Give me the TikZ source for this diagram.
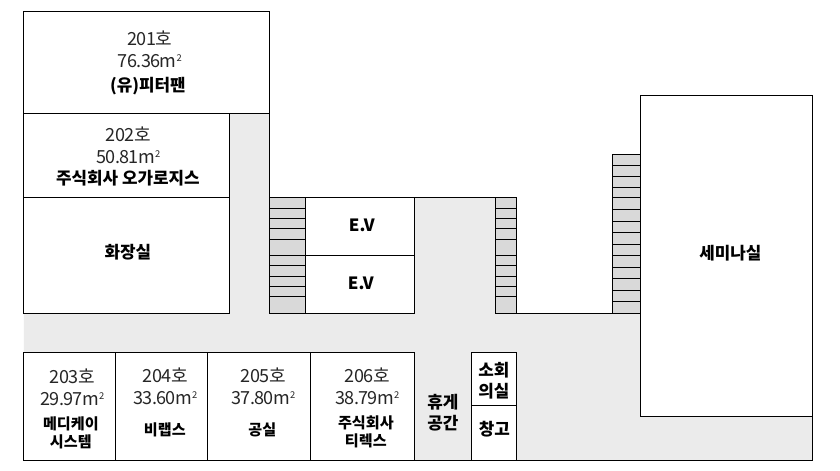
\documentclass[tikz,border=0pt]{standalone}
\usepackage{fontspec}
\setmainfont{Noto Sans CJK KR}
\newfontfamily\numfont[LetterSpace=-3.5]{Noto Sans CJK KR}
\newcommand{\sqm}{m\raisebox{0.62ex}{\fontsize{8}{8}\selectfont 2}}
\tikzset{
  wall/.style={draw=black, line width=0.8pt},
  room/.style={wall, rectangle, fill=white, inner sep=0pt},
  roomtext/.style={align=center, inner sep=0pt, text=black!85, font=\fontsize{15.4}{18.7}\selectfont\numfont},
  nametext/.style={align=center, inner sep=0pt, text=black, font=\fontsize{14.4}{17.8}\selectfont\bfseries},
  smallname/.style={nametext, font=\fontsize{12.9}{15.5}\selectfont\bfseries}
}
\begin{document}
\begin{tikzpicture}[x=0.03cm, y=-0.03cm]
\useasboundingbox (0.15,0) rectangle (840.15,470);

% Corridor
\fill[black!8] (24,313) -- (230,313) -- (230,113) -- (270,113) -- (270,197) -- (496,197) -- (496,313) -- (641,313) -- (641,416) -- (813,416) -- (813,460) -- (415,460) -- (415,352) -- (24,352) -- cycle;
\draw[wall] (415,197) -- (496,197);
\draw[wall] (517,313) -- (613,313);
\draw[wall] (270,113) -- (270,197);
\draw[wall] (813,416) -- (813,460) -- (415,460);

% Stairs
\draw[wall, fill=black!15] (270,197) rectangle (306,313);
\draw[wall, fill=black!15] (496,197) rectangle (517,313);
\draw[wall, fill=black!15] (613,154) rectangle (641,313);
\foreach \yy in {208,218,228,239,255,265,276,286,296} {
  \draw[wall] (270,\yy) -- (306,\yy);
  \draw[wall] (496,\yy) -- (517,\yy);
}
\foreach \yy in {165,176,187,197,209,221,232,244,255,267,278,290,301} {
  \draw[wall] (613,\yy) -- (641,\yy);
}

% Upper rooms
\draw[room] (24,11) rectangle (270,113);
\draw[room] (24,113) rectangle (230,197);
\draw[room] (24,197) rectangle (230,313);
\draw[room] (306,197) rectangle (415,255);
\draw[room] (306,255) rectangle (415,313);

% Lower rooms
\draw[room] (24,352) rectangle (115.5,460);
\draw[room] (115.5,352) rectangle (207.5,460);
\draw[room] (207.5,352) rectangle (310.5,460);
\draw[room] (310.5,352) rectangle (415,460);
\draw[room] (471.5,352) rectangle (516.5,405);
\draw[room] (471.5,405) rectangle (516.5,460);

% Seminar room
\draw[room] (641,95) rectangle (813,416);

% Labels
\node[roomtext] (t201) at (150,49) {201호\\76.36\sqm};
\node[nametext] (n201) at (148,86) {(유)피터팬};
\node[roomtext] (t202) at (128.5,145) {202호\\50.81\sqm};
\node[nametext] (n202) at (128,178) {주식회사 오가로지스};
\node[nametext] (nwc) at (128,252) {화장실};
\node[nametext] (nev1) at (362,225) {E.V};
\node[nametext] (nev2) at (361,283) {E.V};
\node[roomtext] (t203) at (72.5,387) {203호\\29.97\sqm};
\node[smallname] (n203) at (71,433) {메디케이\\시스템};
\node[roomtext] (t204) at (165.5,386) {204호\\33.60\sqm};
\node[smallname] (n204) at (165,430) {비랩스};
\node[roomtext] (t205) at (263.5,386) {205호\\37.80\sqm};
\node[smallname] (n205) at (262.5,430) {공실};
\node[roomtext] (t206) at (367.5,386) {206호\\38.79\sqm};
\node[smallname] (n206) at (366,432) {주식회사\\티렉스};
\node[nametext] (nrest) at (443,412.5) {휴게\\공간};
\node[nametext] (nmeet) at (494,380.5) {소회\\의실};
\node[nametext] (nstore) at (494.5,429) {창고};
\node[nametext] (nsem) at (730.5,253) {세미나실};
\end{tikzpicture}
\end{document}
